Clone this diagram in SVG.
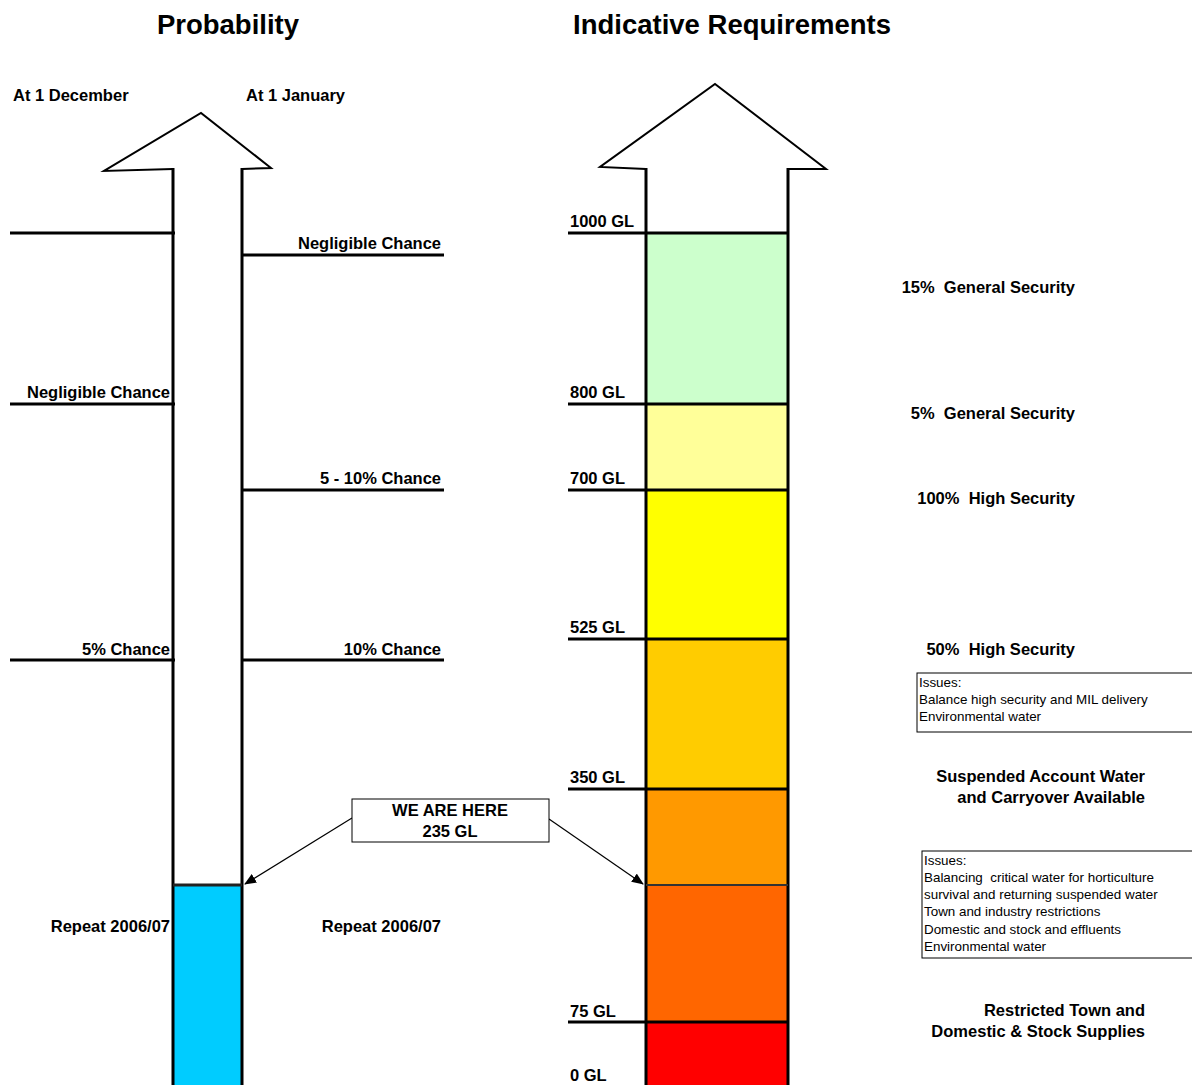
<svg xmlns="http://www.w3.org/2000/svg" width="1192" height="1085" viewBox="0 0 1192 1085">
<defs>
<style>
text{white-space:pre}
.t{font-family:"Liberation Sans",Arial,sans-serif;font-weight:bold;font-size:16.5px;fill:#000}
.title{font-family:"Liberation Sans",Arial,sans-serif;font-weight:bold;font-size:27.5px;fill:#000}
.s{font-family:"Liberation Sans",Arial,sans-serif;font-size:13.4px;fill:#000}
.ln{stroke:#000;stroke-width:3;fill:none}
.hd{stroke:#000;stroke-width:2;fill:#fff;stroke-linejoin:miter}
.box{fill:#fff;stroke:#000;stroke-width:1}
.conn{stroke:#000;stroke-width:1.2;fill:none}
</style>
<marker id="ah" markerWidth="12" markerHeight="10" refX="11" refY="5" orient="auto" markerUnits="userSpaceOnUse">
<path d="M0,0 L12,5 L0,10 Z" fill="#000"/>
</marker>
</defs>
<rect width="1192" height="1085" fill="#fff"/>
<text class="title" x="228" y="34" text-anchor="middle">Probability</text>
<text class="title" x="732" y="34" text-anchor="middle">Indicative Requirements</text>

<g id="probability-arrow">
<rect x="173" y="885" width="69" height="200" fill="#00CCFF"/>
<path class="hd" d="M173,169 L104,171 L201,113 L271,168 L242,169"/>
<line class="ln" x1="173" y1="168" x2="173" y2="1085"/>
<line class="ln" x1="242" y1="168" x2="242" y2="1085"/>
<line x1="173" y1="885" x2="242" y2="885" stroke="#222" stroke-width="3"/>
<text class="t" x="13" y="101">At 1 December</text>
<text class="t" x="246" y="101">At 1 January</text>
<line class="ln" x1="10" y1="233" x2="175" y2="233"/>
<line class="ln" x1="10" y1="404" x2="175" y2="404"/>
<line class="ln" x1="10" y1="660" x2="175" y2="660"/>
<line class="ln" x1="242" y1="255" x2="444" y2="255"/>
<line class="ln" x1="242" y1="490" x2="444" y2="490"/>
<line class="ln" x1="242" y1="660" x2="444" y2="660"/>
<text class="t" x="441" y="249" text-anchor="end">Negligible Chance</text>
<text class="t" x="170" y="398" text-anchor="end">Negligible Chance</text>
<text class="t" x="441" y="484" text-anchor="end">5 - 10% Chance</text>
<text class="t" x="170" y="655" text-anchor="end">5% Chance</text>
<text class="t" x="441" y="655" text-anchor="end">10% Chance</text>
<text class="t" x="170" y="932" text-anchor="end">Repeat 2006/07</text>
<text class="t" x="441" y="932" text-anchor="end">Repeat 2006/07</text>
</g>

<g id="requirements-arrow">
<rect x="646" y="233" width="142" height="171" fill="#CCFFCC"/>
<rect x="646" y="404" width="142" height="86" fill="#FFFF99"/>
<rect x="646" y="490" width="142" height="149" fill="#FFFF00"/>
<rect x="646" y="639" width="142" height="150" fill="#FFCC00"/>
<rect x="646" y="789" width="142" height="96" fill="#FF9900"/>
<rect x="646" y="885" width="142" height="137" fill="#FF6600"/>
<rect x="646" y="1022" width="142" height="63" fill="#FF0000"/>
<path class="hd" d="M646,169 L600,167 L715,84 L826,169 L788,169"/>
<line class="ln" x1="646" y1="168" x2="646" y2="1085"/>
<line class="ln" x1="788" y1="168" x2="788" y2="1085"/>
<line class="ln" x1="568" y1="233" x2="788" y2="233"/>
<line class="ln" x1="568" y1="404" x2="788" y2="404"/>
<line class="ln" x1="568" y1="490" x2="788" y2="490"/>
<line class="ln" x1="568" y1="639" x2="788" y2="639"/>
<line class="ln" x1="568" y1="789" x2="788" y2="789"/>
<line x1="646" y1="885" x2="788" y2="885" stroke="#333" stroke-width="2"/>
<line class="ln" x1="568" y1="1022" x2="788" y2="1022"/>
<text class="t" x="570" y="227">1000 GL</text>
<text class="t" x="570" y="398">800 GL</text>
<text class="t" x="570" y="484">700 GL</text>
<text class="t" x="570" y="633">525 GL</text>
<text class="t" x="570" y="783">350 GL</text>
<text class="t" x="570" y="1017">75 GL</text>
<text class="t" x="570" y="1081">0 GL</text>
</g>

<g id="categories">
<text class="t" x="1075" y="293" text-anchor="end">15%  General Security</text>
<text class="t" x="1075" y="419" text-anchor="end">5%  General Security</text>
<text class="t" x="1075" y="504" text-anchor="end">100%  High Security</text>
<text class="t" x="1075" y="655" text-anchor="end">50%  High Security</text>
<text class="t" x="1145" y="782" text-anchor="end">Suspended Account Water</text>
<text class="t" x="1145" y="803" text-anchor="end">and Carryover Available</text>
<text class="t" x="1145" y="1016" text-anchor="end">Restricted Town and</text>
<text class="t" x="1145" y="1037" text-anchor="end">Domestic &amp; Stock Supplies</text>
</g>

<g id="issues-1">
<rect class="box" x="917" y="673" width="280" height="59"/>
<text class="s" x="919" y="687">Issues:</text>
<text class="s" x="919" y="704">Balance high security and MIL delivery</text>
<text class="s" x="919" y="721">Environmental water</text>
</g>

<g id="issues-2">
<rect class="box" x="922" y="851" width="275" height="107"/>
<text class="s" x="924" y="865">Issues:</text>
<text class="s" x="924" y="882">Balancing  critical water for horticulture</text>
<text class="s" x="924" y="899">survival and returning suspended water</text>
<text class="s" x="924" y="916">Town and industry restrictions</text>
<text class="s" x="924" y="934">Domestic and stock and effluents</text>
<text class="s" x="924" y="951">Environmental water</text>
</g>

<g id="connectors">
<line class="conn" x1="352" y1="818" x2="245" y2="884" marker-end="url(#ah)"/>
<line class="conn" x1="549" y1="819" x2="643" y2="884" marker-end="url(#ah)"/>
</g>

<g id="we-are-here">
<rect class="box" x="352" y="799" width="197" height="43"/>
<text class="t" x="450" y="816" text-anchor="middle">WE ARE HERE</text>
<text class="t" x="450" y="837" text-anchor="middle">235 GL</text>
</g>
</svg>
